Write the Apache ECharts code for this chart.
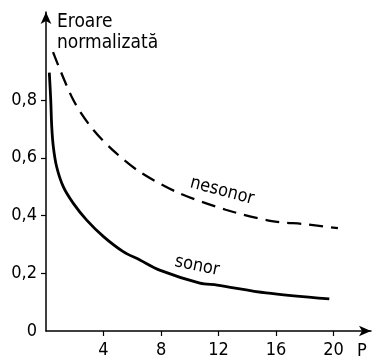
<!DOCTYPE html>
<html><head><meta charset="utf-8">
<script src="https://cdn.jsdelivr.net/npm/echarts@6/dist/echarts.min.js"></script>
<style>html,body{margin:0;padding:0;background:#fff}#c{width:374px;height:359px}</style>
</head><body><div id="c"></div>
<script>
// Data
const pSonor = [0.23,0.33,0.40,0.51,0.74,1.2,1.9,2.83,4.0,5.37,6.53,7.9,10.7,11.9,15.3,19.7];
const vSonor = [0.895,0.80,0.707,0.638,0.569,0.50,0.442,0.384,0.327,0.275,0.246,0.211,0.166,0.159,0.132,0.111];
const pNesonor = [0.49,1.9,3.3,4.9,6.5,9.1,12.5,15.7,18.0,20.3];
const vNesonor = [0.966,0.80,0.696,0.615,0.552,0.481,0.420,0.381,0.370,0.356];
const xTicks = [4,8,12,16,20];
const yTicks = [0,0.2,0.4,0.6,0.8];
const yTitle = ['Eroare','normalizată'];
const xTitle = 'P';
const seriesNames = ['sonor','nesonor'];

const F = '"DejaVu Sans Condensed","DejaVu Sans",sans-serif';
const chart = echarts.init(document.getElementById('c'), null, {renderer:'canvas'});
const zip = (a,b)=>a.map((x,i)=>[x,b[i]]);
chart.setOption({
  animation:false,
  grid:{left:46,right:3,top:12,bottom:28},
  xAxis:{type:'value',min:0,max:22.6,interval:4,
    axisLine:{symbol:['none','arrow'],symbolSize:[8,12],lineStyle:{color:'#000',width:1.5}},
    axisTick:{customValues:xTicks,length:5,inside:false,lineStyle:{color:'#000',width:1.2}},
    axisLabel:{customValues:xTicks,margin:10,color:'#000',fontFamily:F,fontSize:18},
    splitLine:{show:false}},
  yAxis:{type:'value',min:0,max:1.105,interval:0.2,
    axisLine:{show:true,symbol:['none','arrow'],symbolSize:[8,12],lineStyle:{color:'#000',width:1.5}},
    axisTick:{show:true,customValues:yTicks.filter(v=>v>0),length:5,lineStyle:{color:'#000',width:1.2}},
    axisLabel:{customValues:yTicks,margin:9,color:'#000',fontFamily:F,fontSize:18,
      formatter:v=>(v===0?'0':v.toFixed(1).replace('.',','))},
    splitLine:{show:false}},
  series:[
    {name:seriesNames[0],type:'line',data:zip(pSonor,vSonor),smooth:0.3,symbol:'none',
     lineStyle:{color:'#000',width:2.8}},
    {name:seriesNames[1],type:'line',data:zip(pNesonor,vNesonor),smooth:0.3,symbol:'none',
     lineStyle:{color:'#000',width:2.3,type:[14,8]}}
  ],
  graphic:[
    {type:'text',x:57,y:13,style:{text:yTitle[0],font:'19px '+F,fill:'#000'}},
    {type:'text',x:57,y:34,style:{text:yTitle[1],font:'19px '+F,fill:'#000'}},
    {type:'text',x:357,y:342,style:{text:xTitle,font:'18px '+F,fill:'#000'}},
    {type:'text',x:222,y:191,rotation:-0.26,style:{text:seriesNames[1],font:'18px '+F,fill:'#000',align:'center',verticalAlign:'middle'}},
    {type:'text',x:197,y:266,rotation:-0.2,style:{text:seriesNames[0],font:'18px '+F,fill:'#000',align:'center',verticalAlign:'middle'}}
  ]
});
</script></body></html>
